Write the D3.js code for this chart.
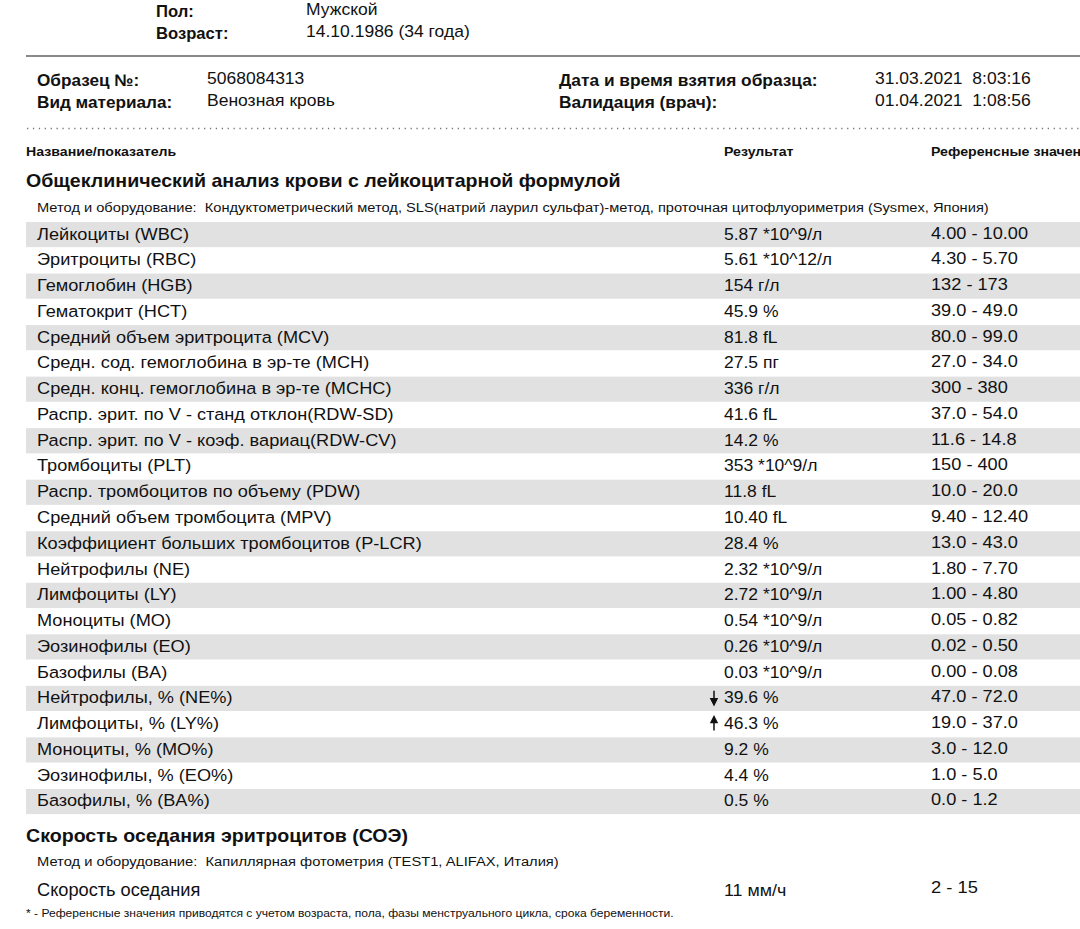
<!DOCTYPE html>
<html>
<head>
<meta charset="utf-8">
<script src="https://cdn.jsdelivr.net/npm/d3@7"></script>
<style>
  html, body { margin: 0; padding: 0; background: #fff; }
  svg { display: block; }
  text { fill: #111; font-family: "Liberation Sans", Arial, sans-serif; white-space: pre; }
</style>
</head>
<body>
<svg id="chart" width="1080" height="929"></svg>
<script>
// ---------- data ----------
const patientLabels = ["Пол:", "Возраст:"];
const patientValues = ["Мужской", "14.10.1986 (34 года)"];
const sampleLabels = ["Образец №:", "Вид материала:"];
const sampleValues = ["5068084313", "Венозная кровь"];
const dateLabels = ["Дата и время взятия образца:", "Валидация (врач):"];
const dateValues = ["31.03.2021  8:03:16", "01.04.2021  1:08:56"];
const columnHeaders = ["Название/показатель", "Результат", "Референсные значения"];

const sectionTitle = "Общеклинический анализ крови с лейкоцитарной формулой";
const sectionMethod = "Метод и оборудование:  Кондуктометрический метод, SLS(натрий лаурил сульфат)-метод, проточная цитофлуориметрия (Sysmex, Япония)";

const testNames = [
  "Лейкоциты (WBC)", "Эритроциты (RBC)", "Гемоглобин (HGB)", "Гематокрит (HCT)",
  "Средний объем эритроцита (MCV)", "Средн. сод. гемоглобина в эр-те (MCH)",
  "Средн. конц. гемоглобина в эр-те (MCHC)", "Распр. эрит. по V - станд отклон(RDW-SD)",
  "Распр. эрит. по V - коэф. вариац(RDW-CV)", "Тромбоциты (PLT)",
  "Распр. тромбоцитов по объему (PDW)", "Средний объем тромбоцита (MPV)",
  "Коэффициент больших тромбоцитов (P-LCR)", "Нейтрофилы (NE)", "Лимфоциты (LY)",
  "Моноциты (MO)", "Эозинофилы (EO)", "Базофилы (BA)", "Нейтрофилы, % (NE%)",
  "Лимфоциты, % (LY%)", "Моноциты, % (MO%)", "Эозинофилы, % (EO%)", "Базофилы, % (BA%)"
];
const resultValues = ["5.87", "5.61", "154", "45.9", "81.8", "27.5", "336", "41.6", "14.2", "353",
  "11.8", "10.40", "28.4", "2.32", "2.72", "0.54", "0.26", "0.03", "39.6", "46.3", "9.2", "4.4", "0.5"];
const resultUnits = ["*10^9/л", "*10^12/л", "г/л", "%", "fL", "пг", "г/л", "fL", "%", "*10^9/л",
  "fL", "fL", "%", "*10^9/л", "*10^9/л", "*10^9/л", "*10^9/л", "*10^9/л", "%", "%", "%", "%", "%"];
const refLow = ["4.00", "4.30", "132", "39.0", "80.0", "27.0", "300", "37.0", "11.6", "150",
  "10.0", "9.40", "13.0", "1.80", "1.00", "0.05", "0.02", "0.00", "47.0", "19.0", "3.0", "1.0", "0.0"];
const refHigh = ["10.00", "5.70", "173", "49.0", "99.0", "34.0", "380", "54.0", "14.8", "400",
  "20.0", "12.40", "43.0", "7.70", "4.80", "0.82", "0.50", "0.08", "72.0", "37.0", "12.0", "5.0", "1.2"];
// flags: -1 below range, 1 above range, 0 normal
const resultFlags = [0,0,0,0,0,0,0,0,0,0,0,0,0,0,0,0,0,0,-1,1,0,0,0];

const esrTitle = "Скорость оседания эритроцитов (СОЭ)";
const esrMethod = "Метод и оборудование:  Капиллярная фотометрия (TEST1, ALIFAX, Италия)";
const esrName = "Скорость оседания";
const esrResult = "11 мм/ч";
const esrRef = "2 - 15";
const footnote = "* - Референсные значения приводятся с учетом возраста, пола, фазы менструального цикла, срока беременности.";

// ---------- drawing ----------
const svg = d3.select("#chart");
const W = 1080;
const colName = 37, colResult = 724, colRef = 931;
const NARROW = "'Liberation Sans Narrow', 'Arial Narrow', 'Liberation Sans', sans-serif";

// place text with a horizontal stretch (the reference scan is slightly wide)
function put(sel, xf, yf, size, sx, bold, family) {
  const X = typeof xf === "function" ? xf : () => xf;
  const Y = typeof yf === "function" ? yf : () => yf;
  sel.attr("transform", (d, i) => `translate(${X(d, i)},${Y(d, i)}) scale(${sx},1)`)
    .style("font-size", size + "px")
    .style("font-weight", bold ? "bold" : "normal");
  if (family) sel.style("font-family", family);
  return sel;
}

// patient block
put(svg.selectAll("text.plab").data(patientLabels).join("text").text(d => d),
  156, (d, i) => 16.5 + i * 22, 16.3, 1.02, true);
put(svg.selectAll("text.pval").data(patientValues).join("text").text(d => d),
  306, (d, i) => 15 + i * 22, 17, 1.03, false);

// solid grey rule
svg.append("line").attr("x1", 26).attr("x2", W).attr("y1", 56).attr("y2", 56)
  .attr("stroke", "#8a8a8a").attr("stroke-width", 2.2);

// sample block
put(svg.selectAll("text.slab").data(sampleLabels).join("text").text(d => d),
  37, (d, i) => 86 + i * 22, 16.5, 1.04, true);
put(svg.selectAll("text.sval").data(sampleValues).join("text").text(d => d),
  207, (d, i) => 84 + i * 22, 17, 1.03, false);
put(svg.selectAll("text.dlab").data(dateLabels).join("text").text(d => d),
  559, (d, i) => 86 + i * 22, 16.5, 1.05, true);
put(svg.selectAll("text.dval").data(dateValues).join("text").text(d => d),
  875, (d, i) => 84 + i * 22, 17, 1.03, false);

// dotted rule
svg.append("line").attr("x1", 27).attr("x2", W).attr("y1", 128.5).attr("y2", 128.5)
  .attr("stroke", "#777").attr("stroke-width", 1.3).attr("stroke-dasharray", "1.3 4.6");

// column headers
put(svg.selectAll("text.hdr").data(columnHeaders).join("text").text(d => d),
  (d, i) => [26, colResult, colRef][i], 156, 13, 1.09, true);

// section title & method
put(svg.append("text").text(sectionTitle), 26, 187, 18.5, 1.06, true);
put(svg.append("text").text(sectionMethod), 37, 212, 13.5, 1.085, false);

// rows via band scale
const y = d3.scaleBand().domain(d3.range(testNames.length)).range([222, 814.7]).paddingInner(0).paddingOuter(0);
const rows = svg.append("g").selectAll("g.row").data(testNames).join("g")
  .attr("transform", (d, i) => `translate(0,${y(i)})`);

rows.filter((d, i) => i % 2 === 0).append("rect")
  .attr("x", 26).attr("width", W - 26).attr("y", 0).attr("height", y.bandwidth() - 0.6)
  .attr("fill", "#e1e1e1");

put(rows.append("text").text(d => d), colName, 17.5, 17, 1.07, false);
put(rows.append("text").text((d, i) => resultValues[i] + " " + resultUnits[i]), colResult, 17.5, 17, 1.03, false);
put(rows.append("text").text((d, i) => refLow[i] + " - " + refHigh[i]), colRef, 16.5, 17, 1.07, false);

// flag arrows
const arrowPath = dir => {
  const x = 714, top = 5, bot = 19;
  if (dir < 0) return `M${x},${top}V${bot - 5} M${x - 3},${bot - 6}L${x},${bot}L${x + 3},${bot - 6}Z`;
  return `M${x},${bot}V${top + 5} M${x - 3},${top + 6}L${x},${top}L${x + 3},${top + 6}Z`;
};
rows.filter((d, i) => resultFlags[i] !== 0).append("path")
  .attr("d", d => arrowPath(resultFlags[testNames.indexOf(d)]))
  .attr("stroke", "#111").attr("stroke-width", 1.5).attr("fill", "#111");

// ESR section
put(svg.append("text").text(esrTitle), 26, 842, 18.5, 1.06, true);
put(svg.append("text").text(esrMethod), 37, 866, 13.5, 1.09, false, NARROW);
put(svg.append("text").text(esrName), 37, 896, 17.5, 1.04, false, NARROW);
put(svg.append("text").text(esrResult), colResult, 896, 17, 1.05, false);
put(svg.append("text").text(esrRef), colRef, 893, 17, 1.08, false);
put(svg.append("text").text(footnote), 26, 917, 11.5, 1.05, false, NARROW);
</script>
</body>
</html>
